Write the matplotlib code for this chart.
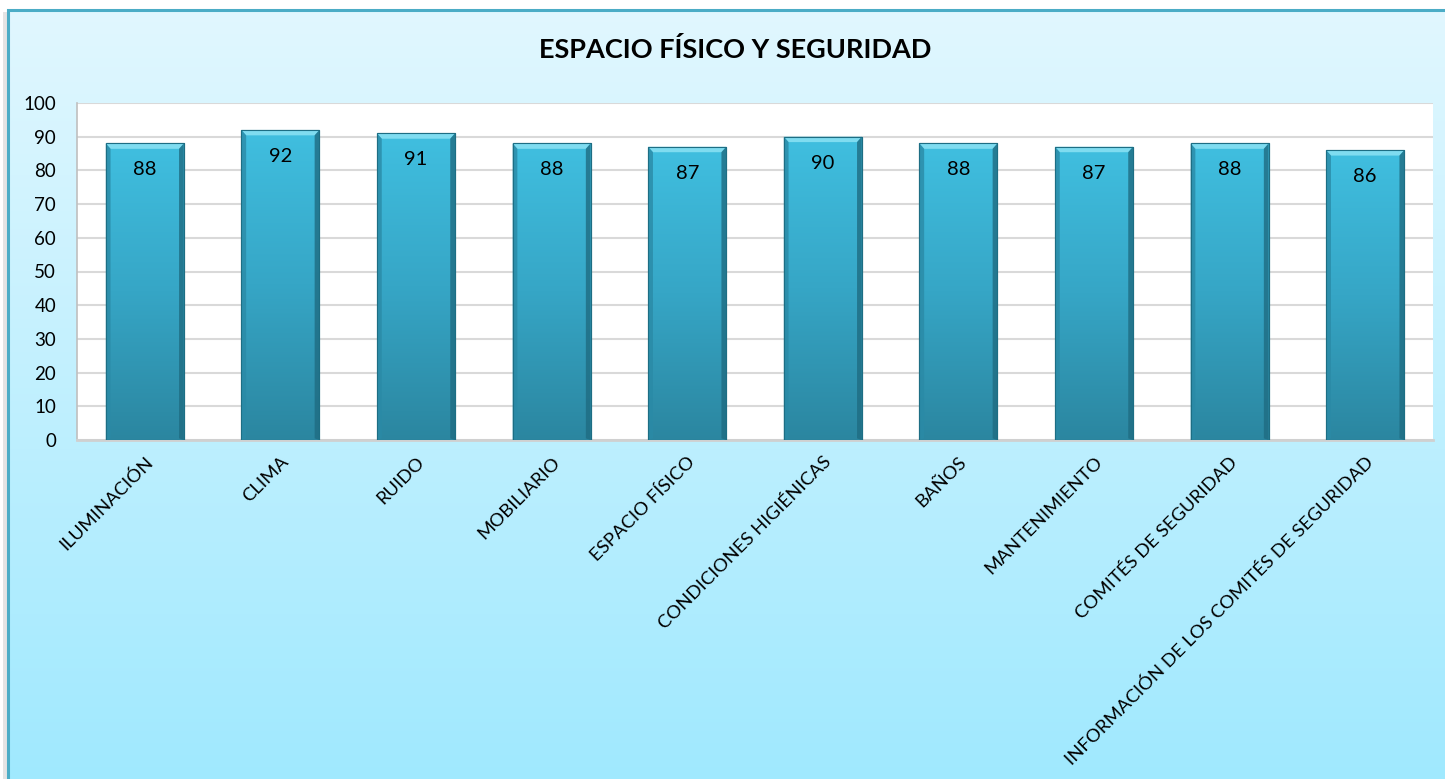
import numpy as np
import matplotlib
matplotlib.use("Agg")
from matplotlib import pyplot as plt
from matplotlib.patches import Rectangle, Polygon
from matplotlib.colors import LinearSegmentedColormap

plt.rcParams['font.family'] = ['Lato', 'DejaVu Sans']

categories = ['ILUMINACIÓN', 'CLIMA', 'RUIDO', 'MOBILIARIO', 'ESPACIO FÍSICO',
              'CONDICIONES HIGIÉNICAS', 'BAÑOS', 'MANTENIMIENTO',
              'COMITÉS DE SEGURIDAD', 'INFORMACIÓN DE LOS COMITÉS DE SEGURIDAD']
values = [88, 92, 91, 88, 87, 90, 88, 87, 88, 86]
title = 'ESPACIO FÍSICO Y SEGURIDAD'

W, H = 1445, 779
fig = plt.figure(figsize=(W / 100, H / 100), dpi=100)
fig.patch.set_facecolor('white')

# background panel with vertical gradient
bg = fig.add_axes([0, 0, 1, 1], zorder=0)
bg.set_xlim(0, W)
bg.set_ylim(H, 0)
bg.axis('off')
bg_cmap = LinearSegmentedColormap.from_list('bg', ['#e1f7fe', '#a0e9fe'])
grad = np.linspace(0, 1, 256).reshape(-1, 1)
bg.imshow(grad, cmap=bg_cmap, extent=[8, W + 5, H, 10], aspect='auto', zorder=1)
# shadow on the left and the frame border
bg.add_patch(Rectangle((3, 12), 5, H, facecolor='#e4e4e4', edgecolor='none', zorder=0.5))
bg.plot([8, 8, W + 5], [H + 5, 10, 10], color='#4bacc6', lw=2.2, zorder=2,
        solid_joinstyle='miter')

# plot area
ax = fig.add_axes([77 / W, 1 - 440 / H, (1433 - 77) / W, (440 - 103) / H], zorder=1)
ax.set_facecolor('white')
x = np.arange(len(categories))
bw = 0.575
bars = ax.bar(x, values, width=bw, color='#38b3d6', edgecolor='#1d6e84',
              linewidth=0.8, zorder=3)

bar_cmap = LinearSegmentedColormap.from_list('bar', ['#2b86a0', '#36a6c6', '#40bfe0'])
for b, v in zip(bars, values):
    x0 = b.get_x()
    im = ax.imshow(grad, cmap=bar_cmap, origin='lower', aspect='auto',
                   extent=[x0, x0 + bw, 0, v], zorder=3.1)
    im.set_clip_path(b)
    # bevel: light top cap and darker sides
    d = 0.035
    dy = 1.6
    ax.add_patch(Polygon([[x0, v], [x0 + bw, v], [x0 + bw - d, v - dy], [x0 + d, v - dy]],
                         closed=True, facecolor='#7fdcf0', edgecolor='none', zorder=3.2))
    ax.add_patch(Polygon([[x0, v], [x0 + d, v - dy], [x0 + d, dy * 0.3], [x0, 0]],
                         closed=True, facecolor='#2a8aa6', edgecolor='none', zorder=3.2, alpha=0.8))
    ax.add_patch(Polygon([[x0 + bw, v], [x0 + bw - d, v - dy], [x0 + bw - d, dy * 0.3], [x0 + bw, 0]],
                         closed=True, facecolor='#1f6c82', edgecolor='none', zorder=3.2, alpha=0.8))
    ax.add_patch(Rectangle((x0, 0), bw, v, facecolor='none', edgecolor='#1d6e84',
                           linewidth=0.8, zorder=3.3))
    ax.annotate(f'{v}', (x0 + bw / 2, v), xytext=(0, -19), textcoords='offset points',
                ha='center', va='center', fontsize=14.5, color='black', zorder=4)

ax.set_xlim(-0.5, len(categories) - 0.5)
ax.set_ylim(0, 100)
ax.set_yticks(np.arange(0, 101, 10))
ax.yaxis.grid(True, color='#d9d9d9', lw=1.5, zorder=0)
ax.set_axisbelow(True)
ax.tick_params(axis='y', length=0, labelsize=13.5, pad=15)
ax.tick_params(axis='x', length=0, pad=10)
for s in ['top', 'right']:
    ax.spines[s].set_visible(False)
ax.spines['left'].set_color('#bfbfbf')
ax.spines['bottom'].set_color('#d0d0d0')
ax.spines['bottom'].set_linewidth(2)
ax.spines['left'].set_linewidth(1.2)

ax.set_xticks(x)
ax.set_xticklabels(categories, rotation=45, ha='right', rotation_mode='anchor',
                   fontsize=13.3)
for lab in ax.get_xticklabels():
    lab.set_verticalalignment('top')

fig.text(735 / W, 1 - 50 / H, title, ha='center', va='center', fontsize=19.5,
         fontweight='bold', color='black')

fig.savefig('out.png', dpi=100, facecolor=fig.get_facecolor())
